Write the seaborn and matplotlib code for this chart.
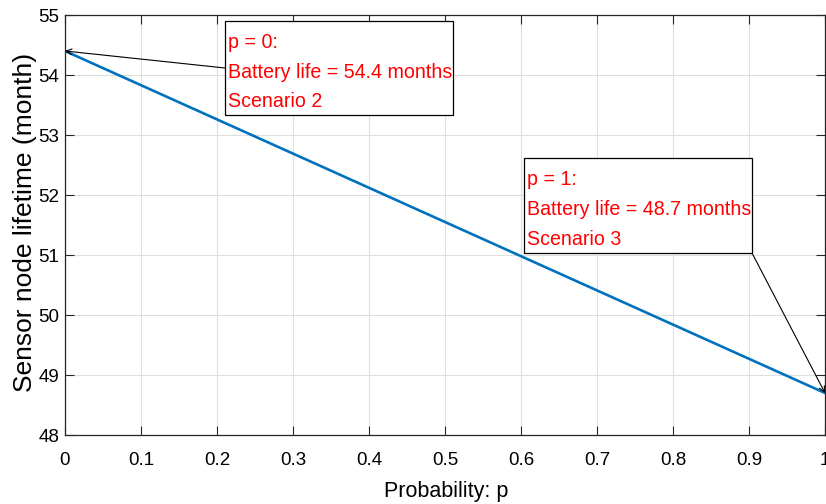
import matplotlib
matplotlib.use("Agg")
import matplotlib.pyplot as plt
from matplotlib.patches import Rectangle
import seaborn as sns
import pandas as pd

# Data
probability = [0.0, 1.0]
lifetime_months = [54.4, 48.7]
x_ticks = [0, 0.1, 0.2, 0.3, 0.4, 0.5, 0.6, 0.7, 0.8, 0.9, 1]
x_tick_labels = ["0", "0.1", "0.2", "0.3", "0.4", "0.5", "0.6", "0.7", "0.8", "0.9", "1"]
y_ticks = [48, 49, 50, 51, 52, 53, 54, 55]
annot_lines = [["p = 0:", "Battery life = 54.4 months", "Scenario 2"],
               ["p = 1:", "Battery life = 48.7 months", "Scenario 3"]]

sns.set_style("whitegrid")
plt.rcParams["font.family"] = ["Liberation Sans", "DejaVu Sans"]

df = pd.DataFrame({"p": probability, "life": lifetime_months})

W, H = 826, 504
fig = plt.figure(figsize=(W / 100, H / 100), dpi=100)
ax = fig.add_axes([65 / W, 1 - 435 / H, 760 / W, 420 / H])

sns.lineplot(data=df, x="p", y="life", ax=ax, color=(0, 0.447, 0.741), linewidth=1.9)

ax.set_xlim(0, 1)
ax.set_ylim(48, 55)
ax.set_xticks(x_ticks)
ax.set_xticklabels(x_tick_labels)
ax.set_yticks(y_ticks)
ax.grid(True, color="#dfdfdf", linewidth=0.8)
for s in ax.spines.values():
    s.set_color("#262626")
    s.set_linewidth(0.9)
ax.tick_params(direction="in", length=6.5, width=0.8, color="#262626",
               top=True, right=True, bottom=True, left=True,
               labelsize=13.5, labelcolor="#000000")
ax.tick_params(axis="x", pad=12.5)
ax.tick_params(axis="y", pad=4)

ax.set_xlabel("Probability: p", fontsize=15.5, color="#000000")
ax.set_ylabel("Sensor node lifetime (month)", fontsize=19, color="#000000")
ax.xaxis.set_label_coords(0.501, -0.11)
ax.yaxis.set_label_coords(-0.037, 0.505)


def fx(px):
    return px / W


def fy(py):
    return 1 - py / H


# annotation boxes (pixel layout: left, top, right, bottom), arrow start, baselines
boxes = [(225, 21, 453, 115), (524, 158, 752, 253)]
arrow_starts = [(225, 68), (752, 253)]
baselines = [(48, 78, 107), (185, 215, 245)]

for i in range(2):
    l, t, r, b = boxes[i]
    fig.add_artist(Rectangle((fx(l), fy(b)), fx(r) - fx(l), fy(t) - fy(b),
                             transform=fig.transFigure, facecolor="white",
                             edgecolor="black", linewidth=0.9, zorder=5))
    for line, yb in zip(annot_lines[i], baselines[i]):
        fig.text(fx(l + 3), fy(yb), line, color="red", fontsize=14.1,
                 ha="left", va="baseline", zorder=6)
    sx, sy = arrow_starts[i]
    ax.annotate("", xy=(probability[i], lifetime_months[i]), xycoords="data",
                xytext=(fx(sx), fy(sy)), textcoords="figure fraction",
                arrowprops=dict(arrowstyle="->", color="black", lw=0.8,
                                shrinkA=0, shrinkB=0),
                annotation_clip=False, zorder=4)

fig.savefig("out.png", dpi=100)
